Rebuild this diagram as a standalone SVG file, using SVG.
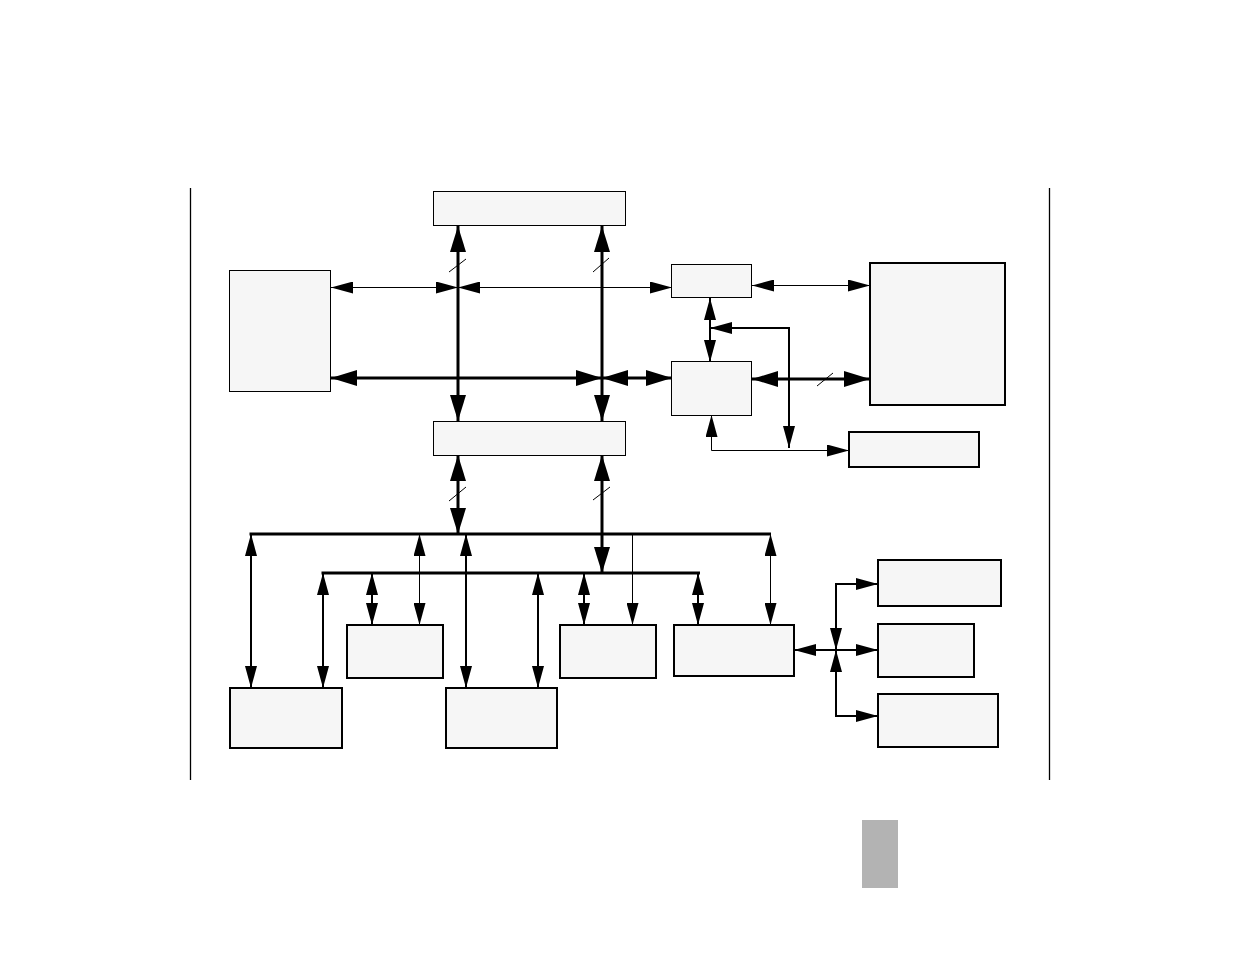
<svg xmlns="http://www.w3.org/2000/svg" width="1235" height="954" viewBox="0 0 1235 954">
<style>
.n{fill:#f6f6f6;stroke:#000;stroke-width:1}
.n2{fill:#f6f6f6;stroke:#000;stroke-width:2}
.t{fill:none;stroke:#000;stroke-width:1}
.m{fill:none;stroke:#000;stroke-width:2}
.k{fill:none;stroke:#000;stroke-width:3}
.s2{marker-start:url(#s);marker-end:url(#s)}
.e{marker-end:url(#s)}
.b2{marker-start:url(#b);marker-end:url(#b)}
</style>
<defs>
<marker id="s" markerUnits="userSpaceOnUse" markerWidth="22" markerHeight="12" viewBox="0 0 22 12" refX="22" refY="6" orient="auto-start-reverse"><path d="M0,0 L22,6 L0,12 Z" fill="#000"/></marker>
<marker id="b" markerUnits="userSpaceOnUse" markerWidth="26" markerHeight="16" viewBox="0 0 26 16" refX="26" refY="8" orient="auto-start-reverse"><path d="M0,0 L26,8 L0,16 Z" fill="#000"/></marker>
</defs>
<rect width="1235" height="954" fill="#fff"/>
<g id="frame">
<line x1="190.5" y1="188" x2="190.5" y2="780" stroke="#000" stroke-width="1.3"/>
<line x1="1049.5" y1="188" x2="1049.5" y2="780" stroke="#000" stroke-width="1.3"/>
<rect x="862" y="820" width="36" height="68" fill="#b3b3b3"/>
</g>
<g id="top"><rect class="n" x="433.5" y="191.5" width="192" height="34"/></g>
<g id="left"><rect class="n" x="229.5" y="270.5" width="101" height="121"/></g>
<g id="mid"><rect class="n" x="433.5" y="421.5" width="192" height="34"/></g>
<g id="small1"><rect class="n" x="671.5" y="264.5" width="80" height="33"/></g>
<g id="small2"><rect class="n" x="671.5" y="361.5" width="80" height="54"/></g>
<g id="bigright"><rect class="n2" x="870" y="263" width="135" height="142"/></g>
<g id="rightlow"><rect class="n2" x="849" y="432" width="130" height="35"/></g>
<g id="bl"><rect class="n2" x="230" y="688" width="112" height="60"/></g>
<g id="ba"><rect class="n2" x="347" y="625" width="96" height="53"/></g>
<g id="bb"><rect class="n2" x="446" y="688" width="111" height="60"/></g>
<g id="bc"><rect class="n2" x="560" y="625" width="96" height="53"/></g>
<g id="bd"><rect class="n2" x="674" y="625" width="120" height="51"/></g>
<g id="be"><rect class="n2" x="878" y="560" width="123" height="46"/></g>
<g id="bf"><rect class="n2" x="878" y="624" width="96" height="53"/></g>
<g id="bg"><rect class="n2" x="878" y="694" width="120" height="53"/></g>
<g id="connectors">
<path class="k b2" d="M458,226 V421"/>
<path class="k b2" d="M602,226 V421"/>
<path class="k b2" d="M331,378 H602"/>
<path class="k b2" d="M602,378 H672"/>
<path class="k b2" d="M752,379 H870"/>
<path class="k b2" d="M458,455 V534"/>
<path class="k b2" d="M602,455 V573"/>
<path class="t s2" d="M331,287.5 H458"/>
<path class="t s2" d="M458,287.5 H672"/>
<path class="t s2" d="M752,285.5 H870"/>
<path class="t s2" d="M711.5,415 V450.5 H849"/>
<path class="t s2" d="M419.5,534 V625"/>
<path class="t e" d="M632.5,534 V625"/>
<path class="t s2" d="M770.5,534 V625"/>
<path class="m s2" d="M710,298 V362"/>
<path class="m s2" d="M789,448 V328 H710"/>
<path class="m s2" d="M251,534 V688"/>
<path class="m s2" d="M323,573 V688"/>
<path class="m s2" d="M372,573 V625"/>
<path class="m s2" d="M466,534 V688"/>
<path class="m s2" d="M538,573 V688"/>
<path class="m s2" d="M584,573 V625"/>
<path class="m s2" d="M698,573 V625"/>
<path class="m s2" d="M794,650 H878"/>
<path class="m s2" d="M836,650 V584 H878"/>
<path class="m s2" d="M836,650 V716 H878"/>
<path class="k" d="M249.5,534 H771"/>
<path class="k" d="M321.5,573 H700"/>
<path class="t" d="M449,272 L466,259 M593,272 L609,258 M449,501 L466,487 M593,500 L610,487 M817,386 L833,373" stroke-width="1.5"/>
</g>
</svg>
